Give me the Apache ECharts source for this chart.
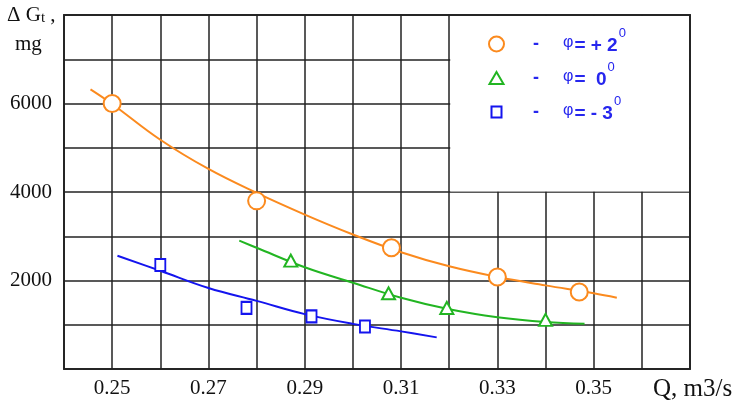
<!DOCTYPE html>
<html><head><meta charset="utf-8">
<script src="https://cdn.jsdelivr.net/npm/echarts@6/dist/echarts.min.js"></script>
<style>html,body{margin:0;padding:0;background:#fff}#c{width:738px;height:403px}</style>
</head><body><div id="c"></div>
<script>
// ---- data ----
const xTicks = [0.25, 0.27, 0.29, 0.31, 0.33, 0.35];
const yTicks = [2000, 4000, 6000];
const ptsPlus2 = [[0.25,6000],[0.28,3800],[0.308,2740],[0.33,2080],[0.347,1740]];
const curvePlus2 = [[0.2455,6320],[0.25,5990],[0.26,5180],[0.27,4520],[0.28,3980],[0.29,3490],[0.30,3040],[0.31,2640],[0.32,2320],[0.33,2080],[0.34,1890],[0.35,1710],[0.3548,1610]];
const ptsZero = [[0.2871,2450],[0.3074,1710],[0.3195,1380],[0.34,1110]];
const curveZero = [[0.2764,2900],[0.28,2740],[0.29,2300],[0.30,1950],[0.31,1610],[0.32,1350],[0.33,1170],[0.34,1060],[0.3481,1020]];
const ptsMinus3 = [[0.26,2350],[0.2779,1380],[0.2914,1190],[0.3025,960]];
const curveMinus3 = [[0.2511,2560],[0.26,2220],[0.27,1830],[0.28,1540],[0.29,1240],[0.30,1020],[0.31,850],[0.3174,715]];
const legendLabels = {p2:['= + 2','0'], z0:['=  0','0'], m3:['= - 3','0']};

const ORANGE='#fb8a1e', GREEN='#22b522', BLUE='#1414ee', TXTBLUE='#2626ee';
const serif = '"Liberation Serif","DejaVu Serif",serif';
const sans = '"Liberation Sans",Arial,sans-serif';

const chart = echarts.init(document.getElementById('c'));
const near = (v, arr) => arr.some(t => Math.abs(t - v) < 1e-6);

const option = {
  animation:false,
  backgroundColor:'#fff',
  grid:{left:64,right:48,top:15,bottom:34,show:true,borderColor:'#333',borderWidth:2,backgroundColor:'#fff'},
  xAxis:{type:'value',min:0.24,max:0.37,interval:0.01,
    axisLine:{show:false},axisTick:{show:false},
    splitLine:{show:true,lineStyle:{color:'#222',width:1.5}},
    axisLabel:{margin:9,fontFamily:serif,fontSize:21,color:'#111',
      formatter:v=>near(v,xTicks)?v.toFixed(2):''}},
  yAxis:{type:'value',min:0,max:8000,interval:1000,
    axisLine:{show:false},axisTick:{show:false},
    splitLine:{show:true,lineStyle:{color:'#222',width:1.5}},
    axisLabel:{margin:12,fontFamily:serif,fontSize:21,color:'#111',
      formatter:v=>near(v,yTicks)?String(v):''}},
  legend:{
    data:[
      {name:'p2',icon:'circle'},
      {name:'z0',icon:'path://M0,0 M15,15 M7.5,1.5 L14.5,13.5 L0.5,13.5 Z'},
      {name:'m3',icon:'path://M0,0 M15,15 M2.5,2 L12.5,2 L12.5,13 L2.5,13 Z'}
    ],
    orient:'vertical',left:483,top:22,itemWidth:15,itemHeight:15,itemGap:6,
    formatter:n=>'{d|-}{p|φ}{e|'+legendLabels[n][0]+'}{s|'+legendLabels[n][1]+'}',
    textStyle:{rich:{
      d:{width:54,align:'center',fontSize:18,fontWeight:'bold',color:TXTBLUE,fontFamily:sans,lineHeight:34,verticalAlign:'middle'},
      p:{fontSize:16,color:TXTBLUE,fontFamily:sans,verticalAlign:'top',lineHeight:16,padding:[8,1,0,0]},
      e:{fontSize:19,fontWeight:'bold',color:TXTBLUE,fontFamily:sans,lineHeight:34,verticalAlign:'middle',padding:[3,0,0,0]},
      s:{fontSize:13,color:TXTBLUE,fontFamily:sans,verticalAlign:'top',lineHeight:11,padding:[0,0,0,1]}
    }}
  },
  series:[
    {name:'p2c',type:'line',data:curvePlus2,smooth:0.4,symbol:'none',lineStyle:{color:ORANGE,width:2},z:2},
    {name:'z0c',type:'line',data:curveZero,smooth:0.4,symbol:'none',lineStyle:{color:GREEN,width:2},z:2},
    {name:'m3c',type:'line',data:curveMinus3,smooth:0.4,symbol:'none',lineStyle:{color:BLUE,width:2},z:2},
    {name:'p2',type:'scatter',data:ptsPlus2,symbol:'circle',symbolSize:17,itemStyle:{color:'#fff',borderColor:ORANGE,borderWidth:2,opacity:1},z:3},
    {name:'z0',type:'scatter',data:ptsZero,symbol:'triangle',symbolSize:[13,12],itemStyle:{color:'#fff',borderColor:GREEN,borderWidth:2,opacity:1},z:3},
    {name:'m3',type:'scatter',data:ptsMinus3,symbol:'rect',symbolSize:[10,12],itemStyle:{color:'#fff',borderColor:BLUE,borderWidth:2,opacity:1},z:3}
  ]
};
chart.setOption(option);

// legend box: white patch over grid, bounded by the 0.32 and 4000 grid lines
const tl = chart.convertToPixel({gridIndex:0},[0.32,8000]);
const br = chart.convertToPixel({gridIndex:0},[0.37,4000]);
chart.setOption({graphic:[
  {type:'rect',z:1,shape:{x:tl[0]+1,y:tl[1]+1,width:br[0]-tl[0]-2,height:br[1]-tl[1]-1.5},style:{fill:'#fff'}},
  {type:'text',left:7,top:5,z:5,style:{rich:{a:{fontFamily:serif,fontSize:21,fill:'#111'},b:{fontFamily:serif,fontSize:15,fill:'#111',padding:[5,0,0,0]}},text:'{a|Δ G}{b|t}{a| ,}'}},
  {type:'text',left:15,top:34,z:5,style:{fontFamily:serif,fontSize:21,fill:'#111',text:'mg'}},
  {type:'text',left:653,top:377,z:5,style:{fontFamily:serif,fontSize:25,fill:'#111',text:'Q, m3/s'}}
]});
</script></body></html>
